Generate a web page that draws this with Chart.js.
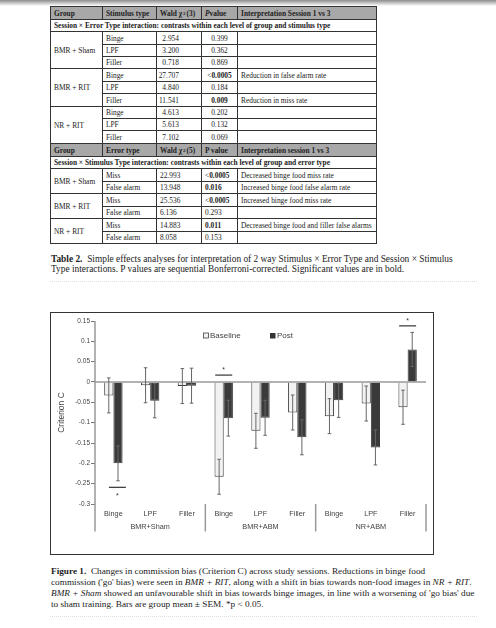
<!DOCTYPE html>
<html>
<head>
<meta charset="utf-8">
<script src="https://cdn.jsdelivr.net/npm/chart.js@4.4.1/dist/chart.umd.min.js"></script>
<style>
body{margin:0;width:496px;height:628px;background:#fff;position:relative;overflow:hidden;font-family:"Liberation Serif",serif;color:#222}
.shade{position:absolute;left:0;top:0;width:496px;height:6px;background:linear-gradient(#8c8c8c,#fff)}
.cell{position:absolute;box-sizing:border-box;border:1px solid #333;font-size:7.4px;white-space:nowrap;overflow:hidden;display:flex;align-items:center;padding-left:3px}
.cell.h{background:#a8a8a8;font-weight:bold}
.cell.s{font-weight:bold}
.cell.r{justify-content:flex-end;padding-right:22px}
.cell.c{justify-content:center;padding-left:0}
.cell sup{font-size:5px;margin-left:1px;margin-right:1px}
.cap{position:absolute;left:51px;white-space:pre;color:#222}
.dots{position:absolute;left:50px;width:427px;border-top:1px dotted #ddd}
#frame{position:absolute;left:50px;top:312px;width:384px;height:243px;box-sizing:border-box;border:1px solid #333}
canvas{position:absolute;left:50px;top:312px}
</style>
</head>
<body>
<div class="shade"></div>
<div id="tbl"></div>

<div class="cap" style="top:254px;line-height:10.3px;font-size:9.4px"><b>Table 2.</b>  Simple effects analyses for interpretation of 2 way Stimulus × Error Type and Session × Stimulus
Type interactions. P values are sequential Bonferroni-corrected. Significant values are in bold.</div>
<div class="dots" style="top:281px"></div>

<div id="frame"></div>
<canvas id="BarChart" width="384" height="243"></canvas>

<div class="cap" style="top:566px;line-height:11.1px;font-size:9.25px"><b>Figure 1.</b>  Changes in commission bias (Criterion C) across study sessions. Reductions in binge food
commission ('go' bias) were seen in <i>BMR + RIT</i>, along with a shift in bias towards non-food images in <i>NR + RIT</i>.
<i>BMR + Sham</i> showed an unfavourable shift in bias towards binge images, in line with a worsening of 'go bias' due
to sham training. Bars are group mean ± SEM. *p &lt; 0.05.</div>
<div class="dots" style="top:616px"></div>

<script>
// ---- table 2 (text only) ----
const colX = [50, 102, 156, 201, 237, 376]
const rowY = [6, 19, 31, 44, 56, 68, 81, 93, 106, 118, 130, 143, 156, 168, 181, 193, 206, 218, 231, 243]
const tableRows = [
	["h", "Group", "Stimulus type", "Wald χ<sup>2</sup> (3)", "<i>P</i> value", "Interpretation Session 1 vs 3"],
	["s", "Session × Error Type interaction: contrasts within each level of group and stimulus type"],
	["a3", "BMR + Sham", "Binge", "2.954", "0.399", ""],
	["a", "", "LPF", "3.200", "0.362", ""],
	["a", "", "Filler", "0.718", "0.869", ""],
	["a3", "BMR + RIT", "Binge", "27.707", "&lt;<b>0.0005</b>", "Reduction in false alarm rate"],
	["a", "", "LPF", "4.840", "0.184", ""],
	["a", "", "Filler", "11.541", "<b>0.009</b>", "Reduction in miss rate"],
	["a3", "NR + RIT", "Binge", "4.613", "0.202", ""],
	["a", "", "LPF", "5.613", "0.132", ""],
	["a", "", "Filler", "7.102", "0.069", ""],
	["h", "Group", "Error type", "Wald χ<sup>2</sup> (5)", "P value", "Interpretation session 1 vs 3"],
	["s", "Session × Stimulus Type interaction: contrasts within each level of group and error type"],
	["b2", "BMR + Sham", "Miss", "22.993", "&lt;<b>0.0005</b>", "Decreased binge food miss rate"],
	["b", "", "False alarm", "13.948", "<b>0.016</b>", "Increased binge food false alarm rate"],
	["b2", "BMR + RIT", "Miss", "25.536", "&lt;<b>0.0005</b>", "Increased binge food miss rate"],
	["b", "", "False alarm", "6.136", "0.293", ""],
	["b2", "NR + RIT", "Miss", "14.883", "<b>0.011</b>", "Decreased binge food and filler false alarms"],
	["b", "", "False alarm", "8.058", "0.153", ""],
]

const tbl = document.getElementById("tbl")
const addCell = (r, c, rs, cs, html, cls) => {
	const d = document.createElement("div")
	d.className = "cell " + cls
	d.style.left = colX[c] + "px"
	d.style.top = rowY[r] + "px"
	d.style.width = colX[c + cs] - colX[c] + 1 + "px"
	d.style.height = rowY[r + rs] - rowY[r] + 1 + "px"
	d.innerHTML = html
	tbl.appendChild(d)
}
tableRows.forEach((row, r) => {
	const kind = row[0]
	if (kind === "s") return addCell(r, 0, 1, 5, row[1], "s")
	const block = kind[0]
	const span = kind.length > 1 ? Number(kind[1]) : 0
	if (kind === "h") {
		row.slice(1).forEach((t, c) => addCell(r, c, 1, 1, t, "h"))
		return
	}
	if (span) addCell(r, 0, span, 1, row[1], "")
	addCell(r, 1, 1, 1, row[2], "")
	addCell(r, 2, 1, 1, row[3], block === "a" ? "r" : "")
	addCell(r, 3, 1, 1, row[4], block === "a" ? "c" : "")
	addCell(r, 4, 1, 1, row[5], "")
})

// ---- figure 1 ----
const categories = ["Binge", "LPF", "Filler", "Binge", "LPF", "Filler", "Binge", "LPF", "Filler"]
const groups = ["BMR+Sham", "BMR+ABM", "NR+ABM"]
const baseline = [-0.033, -0.008, -0.010, -0.233, -0.120, -0.075, -0.084, -0.053, -0.062]
const post = [-0.200, -0.046, -0.009, -0.089, -0.088, -0.136, -0.045, -0.161, 0.080]
const baselineSem = [0.043, 0.043, 0.043, 0.043, 0.043, 0.043, 0.043, 0.043, 0.042]
const postSem = [0.043, 0.042, 0.043, 0.044, 0.043, 0.043, 0.042, 0.043, 0.042]
const yTicks = [0.15, 0.1, 0.05, 0, -0.05, -0.1, -0.15, -0.2, -0.25, -0.3]
const sigIndex = [0, 3, 8]
const sigLevel = [-0.259, 0.017, 0.138]

const FONT = "'Liberation Sans', Arial, sans-serif"
const GREY = "#999"

const overlay = {
	id: "overlay",
	afterDatasetsDraw(chart) {
		const ctx = chart.ctx
		const x = chart.scales.x
		const y = chart.scales.y
		const a = chart.chartArea
		const axisBottom = 219.5
		ctx.save()

		// zero line, y axis line and group separators
		ctx.strokeStyle = GREY
		ctx.lineWidth = 1.5
		ctx.beginPath()
		const y0 = y.getPixelForValue(0)
		ctx.moveTo(a.left, y0)
		ctx.lineTo(a.right, y0)
		ctx.moveTo(a.left, a.top)
		ctx.lineTo(a.left, axisBottom)
		;[2.5, 5.5, 8.5].forEach((v) => {
			const px = x.getPixelForValue(v)
			ctx.moveTo(px, a.bottom)
			ctx.lineTo(px, axisBottom)
		})
		ctx.stroke()

		// error bars
		ctx.strokeStyle = "#666"
		ctx.lineWidth = 1
		;[baselineSem, postSem].forEach((sem, di) => {
			const vals = di ? post : baseline
			chart.getDatasetMeta(di).data.forEach((bar, i) => {
				const t = y.getPixelForValue(vals[i] + sem[i])
				const b = y.getPixelForValue(vals[i] - sem[i])
				ctx.beginPath()
				ctx.moveTo(bar.x, t)
				ctx.lineTo(bar.x, b)
				ctx.moveTo(bar.x - 1.8, t)
				ctx.lineTo(bar.x + 1.8, t)
				ctx.moveTo(bar.x - 1.8, b)
				ctx.lineTo(bar.x + 1.8, b)
				ctx.stroke()
			})
		})

		// significance markers
		ctx.strokeStyle = "#333"
		ctx.fillStyle = "#333"
		ctx.lineWidth = 1.2
		ctx.font = "7px " + FONT
		ctx.textAlign = "center"
		sigIndex.forEach((ci, k) => {
			const cx = x.getPixelForValue(ci) + (sigLevel[k] < 0 ? 4 : 0)
			const py = y.getPixelForValue(sigLevel[k])
			ctx.beginPath()
			ctx.moveTo(cx - 8.5, py)
			ctx.lineTo(cx + 8.5, py)
			ctx.stroke()
			ctx.textBaseline = "middle"
			ctx.fillText("*", cx, sigLevel[k] < 0 ? py + 9 : py - 5)
		})

		// category and group labels
		ctx.fillStyle = "#444"
		ctx.font = "7.3px " + FONT
		categories.forEach((c, i) => {
			ctx.fillText(c, x.getPixelForValue(i), 201.5)
		})
		groups.forEach((g, i) => {
			ctx.fillText(g, x.getPixelForValue(i * 3 + 1), 215)
		})

		// legend
		ctx.font = "8px " + FONT
		ctx.textAlign = "left"
		ctx.lineWidth = 0.8
		ctx.fillStyle = "#f2f2f2"
		ctx.strokeStyle = "#444"
		ctx.fillRect(153.5, 21, 5, 5)
		ctx.strokeRect(153.5, 21, 5, 5)
		ctx.fillStyle = "#333"
		ctx.fillRect(220, 21, 5.5, 5.5)
		ctx.fillStyle = "#444"
		ctx.fillText("Baseline", 160, 24)
		ctx.fillText("Post", 227, 24)
		ctx.restore()
	},
}

const ctx = document.getElementById("BarChart").getContext("2d")
new Chart(ctx, {
	type: "bar",
	data: {
		labels: categories,
		datasets: [
			{
				label: "Baseline",
				data: baseline,
				backgroundColor: "#f2f2f2",
				borderColor: "#3a3a3a",
				borderWidth: 1,
				categoryPercentage: 0.5,
				barPercentage: 1,
			},
			{
				label: "Post",
				data: post,
				backgroundColor: "#3a3a3a",
				borderColor: "#3a3a3a",
				borderWidth: 1,
				categoryPercentage: 0.5,
				barPercentage: 1,
			},
		],
	},
	options: {
		responsive: false,
		animation: false,
		layout: { padding: { left: 0, right: 8, top: 9, bottom: 51 } },
		plugins: { legend: { display: false }, tooltip: { enabled: false } },
		scales: {
			x: { display: false, offset: true },
			y: {
				min: -0.3,
				max: 0.15,
				afterFit(s) {
					s.width = 45
				},
				afterBuildTicks(s) {
					s.ticks = yTicks.map((v) => ({ value: v }))
				},
				ticks: {
					callback: (v) => String(v),
					font: { family: FONT, size: 6.5 },
					color: "#444",
					padding: 1,
				},
				grid: { drawOnChartArea: false, tickLength: 4, tickColor: "#777" },
				border: { display: false },
				title: {
					display: true,
					text: "Criterion C",
					font: { family: FONT, size: 8.5 },
					color: "#444",
					padding: { top: 7, bottom: 0 },
				},
			},
		},
	},
	plugins: [overlay],
})
</script>
</body>
</html>
